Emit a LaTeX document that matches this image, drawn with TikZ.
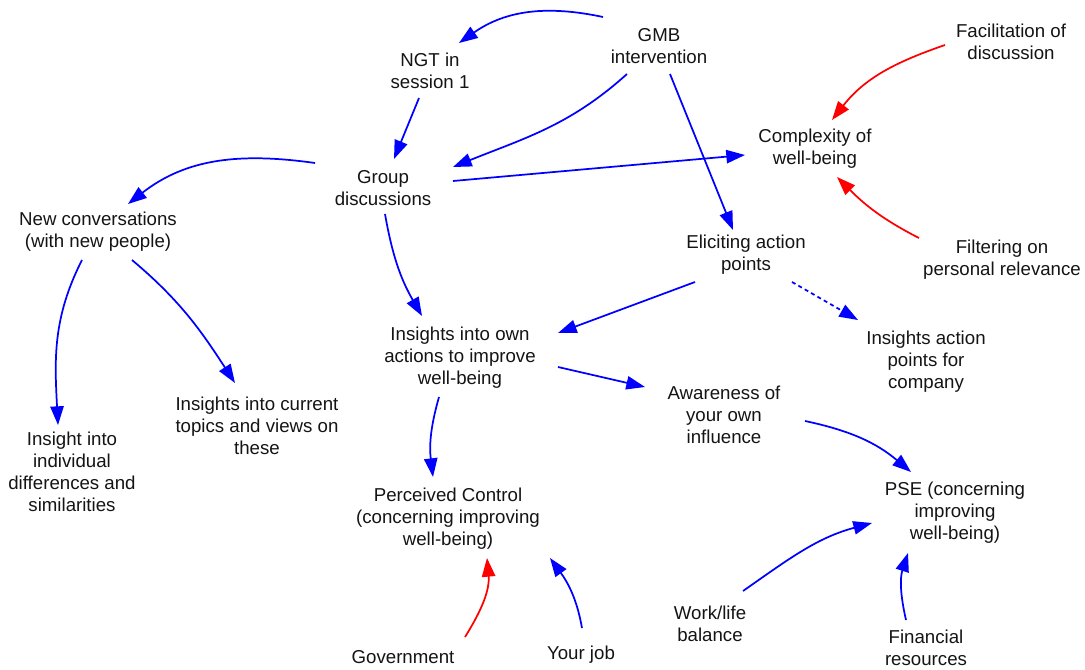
\documentclass[tikz,border=0pt]{standalone}
\usepackage{fontspec}
\setmainfont{Liberation Sans}
\usetikzlibrary{arrows.meta,calc}
\definecolor{linkblue}{RGB}{0,0,255}
\definecolor{linkred}{RGB}{255,0,0}
\definecolor{txt}{RGB}{20,20,20}
\tikzset{
  lbl/.style={align=center,inner sep=0pt,text=txt,font=\fontsize{14}{16.5}\selectfont},
  link/.style={line width=1.3pt,-{Triangle[length=14pt,width=10pt]}},
  poslink/.style={link,draw=linkblue},
  neglink/.style={link,draw=linkred},
  weaklink/.style={poslink,dash pattern=on 3pt off 2.5pt}
}
\begin{document}
\begin{tikzpicture}[x=0.75pt,y=0.75pt]
\useasboundingbox (0,0) rectangle (1085,-670);

% variables
\node[lbl] (gmb)  at (659,-46)  {GMB\\intervention};
\node[lbl] (ngt)  at (430,-71)  {NGT in\\session 1};
\node[lbl] (grp)  at (383,-188) {Group\\discussions};
\node[lbl] (cmp)  at (815,-149) {Complexity of\\well-being};
\node[lbl] (fac)  at (1011,-42) {Facilitation of\\discussion};
\node[lbl] (flt)  at (1002,-260) {Filtering on\\personal relevance};
\node[lbl] (nc)   at (98,-232)  {New conversations\\(with new people)};
\node[lbl] (eli)  at (746,-255) {Eliciting action\\points};
\node[lbl] (iown) at (460,-358) {Insights into own\\actions to improve\\well-being};
\node[lbl] (iap)  at (926,-362) {Insights action\\points for\\company};
\node[lbl] (awr)  at (724,-415) {Awareness of\\your own\\influence};
\node[lbl] (itop) at (257,-426) {Insights into current\\topics and views on\\these};
\node[lbl] (iind) at (72,-472)  {Insight into\\individual\\differences and\\similarities};
\node[lbl] (pc)   at (448,-519) {Perceived Control\\(concerning improving\\well-being)};
\node[lbl] (pse)  at (955,-513) {PSE (concerning\\improving\\well-being)};
\node[lbl] (wl)   at (710,-624) {Work/life\\balance};
\node[lbl] (fin)  at (926,-648) {Financial\\resources};
\node[lbl] (gov)  at (403,-657) {Government};
\node[lbl] (job)  at (581,-655) {Your job};

% causal links
\draw[poslink] ($(gmb)+(-56,29)$) to[out=168,in=35] ($(ngt)+(29,28)$);
\draw[poslink] ($(ngt)+(-11,-27)$) -- ($(grp)+(11,29)$);
\draw[poslink] ($(gmb)+(-32,-28)$) to[out=222,in=22] ($(grp)+(70,21)$);
\draw[poslink] ($(grp)+(70,7)$) -- ($(cmp)+(-70,-6)$);
\draw[poslink] ($(gmb)+(11,-28)$) -- ($(eli)+(-13,25)$);
\draw[poslink] ($(grp)+(-68,25)$) to[out=172,in=38] ($(nc)+(30,28)$);
\draw[neglink] ($(fac)+(-66,-3)$) to[out=199,in=52] ($(cmp)+(17,29)$);
\draw[neglink] ($(flt)+(-83,22)$) to[out=153,in=-45] ($(cmp)+(22,-28)$);
\draw[poslink] ($(grp)+(2,-26)$) to[out=280,in=120] ($(iown)+(-38,42)$);
\draw[poslink] ($(eli)+(-51,-27)$) -- ($(iown)+(98,25)$);
\draw[weaklink] ($(eli)+(46,-27)$) -- ($(iap)+(-68,42)$);
\draw[poslink] ($(iown)+(98,-9)$) -- ($(awr)+(-79,28)$);
\draw[poslink] ($(iown)+(-21,-39)$) to[out=254,in=97] ($(pc)+(-15,42)$);
\draw[poslink] ($(nc)+(-16,-28)$) to[out=243,in=93] ($(iind)+(-14,47)$);
\draw[poslink] ($(nc)+(34,-28)$) to[out=-40,in=123] ($(itop)+(-22,43)$);
\draw[poslink] ($(awr)+(81,-6)$) to[out=-12,in=140] ($(pse)+(-44,41)$);
\draw[neglink] ($(gov)+(62,20)$) to[out=58,in=-85] ($(pc)+(39,-39)$);
\draw[poslink] ($(job)+(1,27)$) to[out=100,in=-54] ($(pc)+(102,-39)$);
\draw[poslink] ($(wl)+(33,33)$) to[out=35,in=195] ($(pse)+(-83,-10)$);
\draw[poslink] ($(fin)+(-20,28)$) to[out=103,in=252] ($(pse)+(-47,-40)$);
\end{tikzpicture}
\end{document}
